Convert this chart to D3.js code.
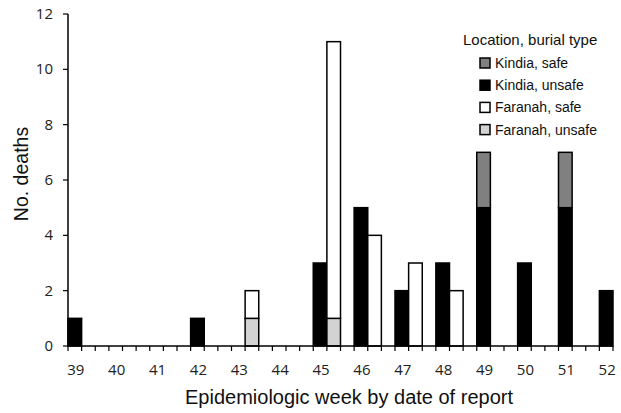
<!DOCTYPE html>
<meta charset="utf-8">
<script src="https://d3js.org/d3.v7.min.js"></script>
<style>
  body { margin: 0; background: #fff; }
  text { font-family: "Liberation Sans", Arial, sans-serif; fill: #111; }
  .tick-label { font-family: "Open Sans", "Liberation Sans", sans-serif; fill: #222; }
</style>
<div id="my_dataviz"></div>
<script>

// weeks and deaths per location / burial type
var weeks = [39, 40, 41, 42, 43, 44, 45, 46, 47, 48, 49, 50, 51, 52];
var kindiaUnsafe  = [1, 0, 0, 1, 0, 0, 3, 5, 2, 3, 5, 3, 5, 2];
var kindiaSafe    = [0, 0, 0, 0, 0, 0, 0, 0, 0, 0, 2, 0, 2, 0];
var faranahUnsafe = [0, 0, 0, 0, 1, 0, 1, 0, 0, 0, 0, 0, 0, 0];
var faranahSafe   = [0, 0, 0, 0, 1, 0, 10, 4, 3, 2, 0, 0, 0, 0];
var yTicks = [0, 2, 4, 6, 8, 10, 12];

var legendItems = [
  {label: "Kindia, safe", color: "#808080"},
  {label: "Kindia, unsafe", color: "#000000"},
  {label: "Faranah, safe", color: "#ffffff"},
  {label: "Faranah, unsafe", color: "#d3d3d3"}
];

var W = 621, H = 413;
var svg = d3.select("#my_dataviz").append("svg")
  .attr("width", W).attr("height", H);

// each week takes 3 slots: Kindia, Faranah, gap (last week only Kindia)
var nSlots = (weeks.length - 1) * 3 + 1;
var x = d3.scaleLinear().domain([0, nSlots]).range([68, 613]);
var y = d3.scaleLinear().domain([0, 12]).range([346, 14]);
var slotW = x(1) - x(0);

// build stacked segments
var segs = [];
weeks.forEach(function(w, i) {
  var ks = i * 3, fs = i * 3 + 1;
  segs.push({slot: ks, y0: 0, y1: kindiaUnsafe[i], color: "#000000"});
  segs.push({slot: ks, y0: kindiaUnsafe[i], y1: kindiaUnsafe[i] + kindiaSafe[i], color: "#808080"});
  segs.push({slot: fs, y0: 0, y1: faranahUnsafe[i], color: "#d3d3d3"});
  segs.push({slot: fs, y0: faranahUnsafe[i], y1: faranahUnsafe[i] + faranahSafe[i], color: "#ffffff"});
});
segs = segs.filter(function(d) { return d.y1 > d.y0; });

svg.append("g").selectAll("rect")
  .data(segs)
  .enter().append("rect")
    .attr("x", function(d) { return x(d.slot); })
    .attr("width", slotW)
    .attr("y", function(d) { return y(d.y1); })
    .attr("height", function(d) { return y(d.y0) - y(d.y1); })
    .attr("fill", function(d) { return d.color; })
    .attr("stroke", "#000")
    .attr("stroke-width", 1.5);

// X axis: minor ticks at every slot boundary
var xAxis = svg.append("g").attr("transform", "translate(0," + y(0) + ")");
xAxis.append("line")
  .attr("x1", x(0)).attr("x2", x(nSlots))
  .attr("stroke", "#000").attr("stroke-width", 1.5);
xAxis.selectAll(".xt")
  .data(d3.range(nSlots + 1))
  .enter().append("line")
    .attr("x1", function(d) { return x(d); })
    .attr("x2", function(d) { return x(d); })
    .attr("y1", 0).attr("y2", 5)
    .attr("stroke", "#000").attr("stroke-width", 1.2);
xAxis.selectAll(".tick-label")
  .data(weeks)
  .enter().append("text")
    .attr("class", "tick-label")
    .attr("x", function(d, i) { return x(i * 3 + 0.5) + 1; })
    .attr("y", 29)
    .attr("text-anchor", "middle")
    .style("font-size", "15px")
    .text(function(d) { return d; });

// Y axis
var yAxis = svg.append("g").attr("transform", "translate(" + x(0) + ",0)");
yAxis.append("line")
  .attr("y1", y(12)).attr("y2", y(0))
  .attr("stroke", "#000").attr("stroke-width", 1.5);
yAxis.selectAll(".yt")
  .data(yTicks)
  .enter().append("line")
    .attr("x1", -5).attr("x2", 0)
    .attr("y1", function(d) { return y(d); })
    .attr("y2", function(d) { return y(d); })
    .attr("stroke", "#000").attr("stroke-width", 1.2);
yAxis.selectAll(".tick-label")
  .data(yTicks)
  .enter().append("text")
    .attr("class", "tick-label")
    .attr("x", -15)
    .attr("y", function(d) { return y(d) + 5; })
    .attr("text-anchor", "end")
    .style("font-size", "15px")
    .text(function(d) { return d; });

// axis titles
svg.append("text")
  .attr("x", 349).attr("y", 404)
  .attr("text-anchor", "middle")
  .style("font-size", "20px")
  .text("Epidemiologic week by date of report");

svg.append("text")
  .attr("transform", "translate(28,174) rotate(-90)")
  .attr("text-anchor", "middle")
  .style("font-size", "19.5px")
  .text("No. deaths");

// legend
var lg = svg.append("g");
lg.append("text")
  .attr("x", 463).attr("y", 45)
  .style("font-size", "15px")
  .text("Location, burial type");
var li = lg.selectAll(".li")
  .data(legendItems)
  .enter().append("g")
    .attr("transform", function(d, i) { return "translate(480," + (63 + i * 22.2) + ")"; });
li.append("rect")
  .attr("x", 0).attr("y", -5)
  .attr("width", 10).attr("height", 10)
  .attr("fill", function(d) { return d.color; })
  .attr("stroke", "#000").attr("stroke-width", 1.5);
li.append("text")
  .attr("x", 15).attr("y", 5)
  .style("font-size", "14px")
  .text(function(d) { return d.label; });

</script>
